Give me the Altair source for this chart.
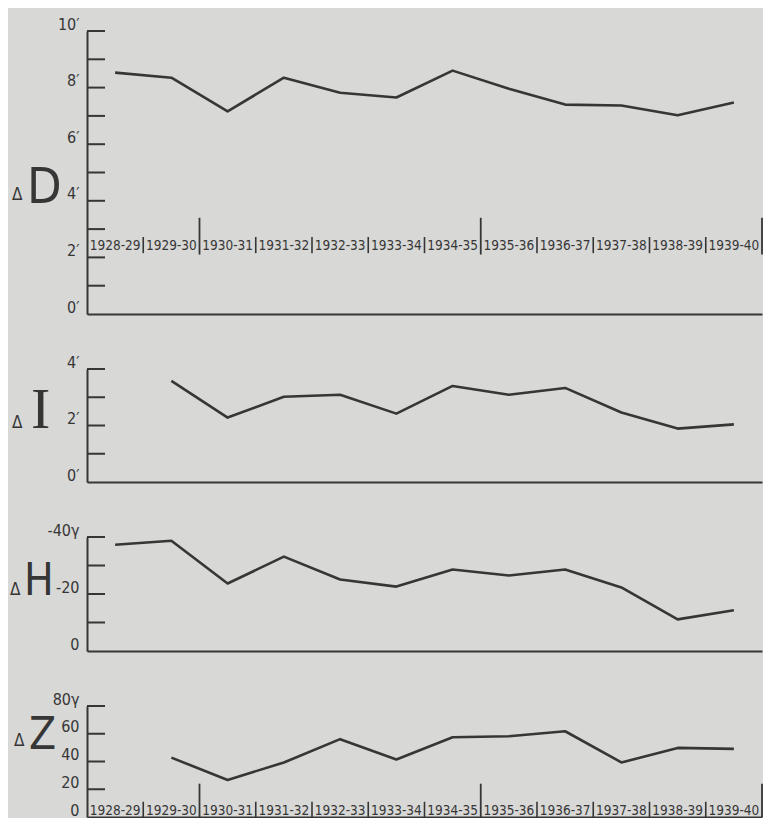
import altair as alt
import pandas as pd

# ---- data ----
years = ["1928-29", "1929-30", "1930-31", "1931-32", "1932-33", "1933-34",
         "1934-35", "1935-36", "1936-37", "1937-38", "1938-39", "1939-40"]
delta_D = [8.53, 8.35, 7.16, 8.35, 7.82, 7.65, 8.60, 7.96, 7.40, 7.37, 7.02, 7.47]
delta_I = [None, 3.58, 2.28, 3.02, 3.09, 2.42, 3.40, 3.09, 3.33, 2.46, 1.89, 2.04]
delta_H = [-37.3, -38.7, -23.7, -33.1, -25.1, -22.6, -28.6, -26.5, -28.6, -22.3, -11.1, -14.3]
delta_Z = [None, 42.8, 26.7, 39.3, 56.1, 41.4, 57.5, 58.2, 61.8, 39.3, 49.8, 49.1]
long_dividers = ["1929-30", "1934-35", "1939-40"]

D_ticks = [1, 2, 3, 4, 5, 6, 7, 8, 9, 10]
D_labels = [0, 2, 4, 6, 8, 10]
I_ticks = [1, 2, 3, 4]
I_labels = [0, 2, 4]
H_ticks = [-10, -20, -30, -40]
H_labels = [0, -20, -40]
Z_ticks = [20, 40, 60, 80]
Z_labels = [0, 20, 40, 60, 80]

delta_sign = ["Δ"]
letters = ["D", "I", "H", "Z"]

# ---- styling ----
W = 675
INK = "#363636"
NARROW = "'Liberation Sans Narrow', 'DejaVu Sans Condensed', 'Arial Narrow', sans-serif"
SERIF = "'Liberation Serif', 'DejaVu Serif', serif"

df = pd.DataFrame({"year": years, "D": delta_D, "I": delta_I, "H": delta_H, "Z": delta_Z})
df["long"] = df["year"].isin(long_dividers)

xscale = alt.Scale(type="band", domain=years, paddingInner=0, paddingOuter=0)
xaxis = alt.Axis(labels=False, ticks=False, tickSize=0, title=None, grid=False,
                 domainColor=INK, domainWidth=2)


def X(pos):
    return alt.X("year:N", scale=xscale, axis=xaxis, bandPosition=pos)


def panel(col, height, domain, ticks, labels, label_expr, letter, letter_font,
          letter_size, letter_xy, delta_xy, year_y=None, short_sep=None, long_sep=None):
    yscale = alt.Scale(domain=domain, nice=False, zero=False)
    yaxis = alt.Axis(values=labels, labelExpr=label_expr, ticks=False, tickSize=0,
                     grid=False, domainColor=INK, domainWidth=2, labelFont=NARROW,
                     labelFontSize=16, labelColor=INK, labelPadding=8, labelOffset=-7,
                     labelOverlap=False, labelBound=False, title=None)
    line = alt.Chart(df).transform_filter(f"isValid(datum.{col})").mark_line(
        color=INK, strokeWidth=2.6, strokeJoin="round"
    ).encode(x=X(0.5), y=alt.Y(f"{col}:Q", scale=yscale, axis=yaxis))

    tk = alt.Chart(pd.DataFrame({"v": ticks})).mark_rule(color=INK, strokeWidth=2).encode(
        y=alt.Y("v:Q", scale=yscale, axis=yaxis), x=alt.value(0), x2=alt.value(18))

    d_txt = alt.Chart(pd.DataFrame({"t": delta_sign})).mark_text(
        align="left", baseline="alphabetic", font=NARROW, fontSize=17, color=INK
    ).encode(text="t:N", x=alt.value(delta_xy[0]), y=alt.value(delta_xy[1]))

    l_txt = alt.Chart(pd.DataFrame({"t": [letter]})).mark_text(
        align="left", baseline="alphabetic", font=letter_font, fontSize=letter_size, color=INK
    ).encode(text="t:N", x=alt.value(letter_xy[0]), y=alt.value(letter_xy[1]))

    layers = [tk, line, d_txt, l_txt]
    if year_y is not None:
        yl = alt.Chart(df).mark_text(font=NARROW, fontSize=13.5, color=INK, baseline="middle").encode(
            x=X(0.5), y=alt.YDatum(year_y, scale=yscale, axis=yaxis), text="year:N")
        ss = alt.Chart(df).transform_filter("!datum.long").mark_rule(color=INK, strokeWidth=1.6).encode(
            x=X(1), y=alt.YDatum(short_sep[0], scale=yscale, axis=yaxis),
            y2=alt.Y2Datum(short_sep[1]))
        ls = alt.Chart(df).transform_filter("datum.long").mark_rule(color=INK, strokeWidth=1.8).encode(
            x=X(1), y=alt.YDatum(long_sep[0], scale=yscale, axis=yaxis),
            y2=alt.Y2Datum(long_sep[1]))
        layers += [yl, ss, ls]
    return alt.layer(*layers).properties(width=W, height=height)


pD = panel("D", 283, [0, 10], D_ticks, D_labels, "datum.value + '′'",
           letters[0], NARROW, 50, (-60, 172), (-75, 169),
           year_y=2.42, short_sep=(2.15, 2.72), long_sep=(2.1, 3.4))
pI = panel("I", 113, [0, 4], I_ticks, I_labels, "datum.value + '′'",
           letters[1], SERIF, 58, (-56, 59), (-75, 59))
pH = panel("H", 114, [0, -40], H_ticks, H_labels,
           "datum.value == -40 ? '-40γ' : '' + datum.value",
           letters[2], NARROW, 44, (-63, 58), (-77, 58))
pZ = panel("Z", 111, [0, 80], Z_ticks, Z_labels,
           "datum.value == 80 ? '80γ' : '' + datum.value",
           letters[3], NARROW, 44, (-58, 43), (-73, 40),
           year_y=4.5, short_sep=(0, 11), long_sep=(0, 24))

chart = alt.vconcat(pD, pI, pH, pZ, spacing=55, bounds="flush").properties(
    padding={"left": 2, "top": 8, "right": 0, "bottom": 0}
).configure(background="#d8d8d6").configure_view(stroke=None)

chart.save("out.html", embed_options={"renderer": "svg", "actions": False})
